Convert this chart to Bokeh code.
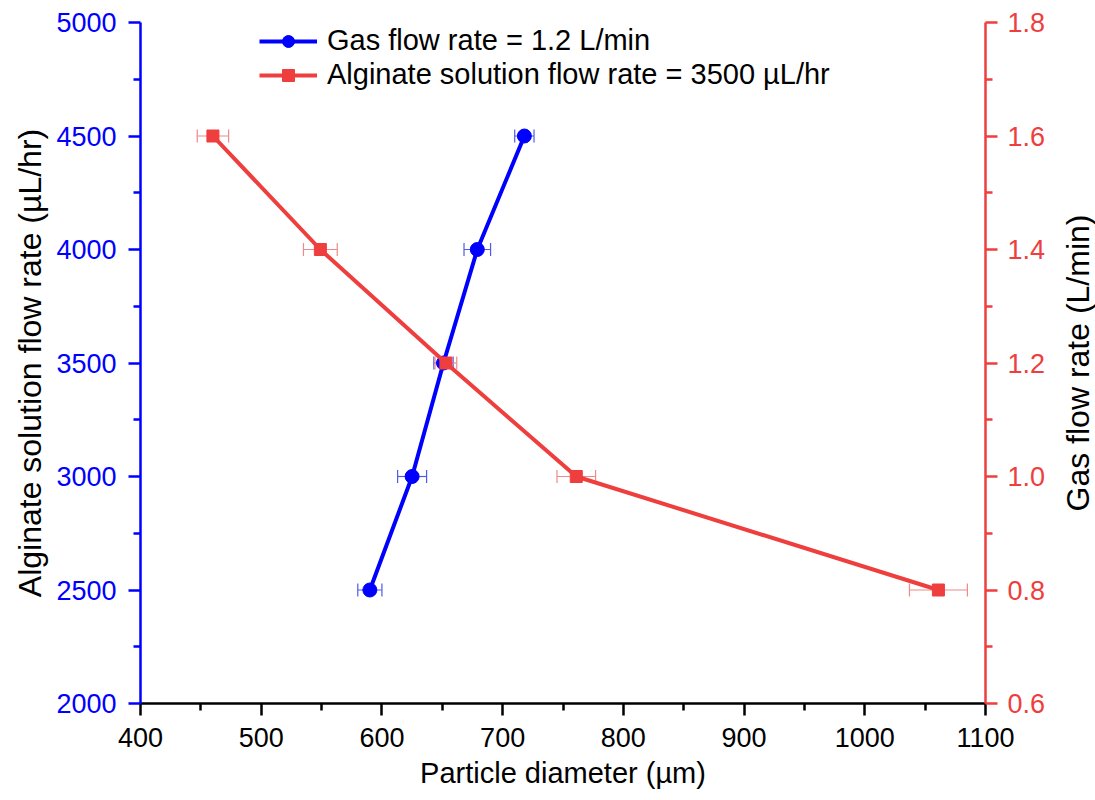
import math
from bokeh.plotting import figure
from bokeh.layouts import row
from bokeh.models import (Range1d, LinearAxis, FixedTicker, Whisker, TeeHead, ColumnDataSource,
                          Legend, LegendItem, PrintfTickFormatter)
from bokeh.embed import file_html
from bokeh.resources import INLINE

# ---- data ----
alg_flow = [2500, 3000, 3500, 4000, 4500]          # µL/hr (left axis)
blue_diam = [590, 625, 651, 679, 718]              # µm
blue_err = [10, 12, 8, 11, 8]

gas_flow = [0.8, 1.0, 1.2, 1.4, 1.6]               # L/min (right axis)
red_diam = [1061, 761, 653, 549, 460]              # µm
red_err = [24, 16, 9, 14, 13]

x_ticks = [400, 500, 600, 700, 800, 900, 1000, 1100]
x_minor = [450, 550, 650, 750, 850, 950, 1050]
left_ticks = [2000, 2500, 3000, 3500, 4000, 4500, 5000]
left_minor = [2250, 2750, 3250, 3750, 4250, 4750]
right_ticks = [0.6, 0.8, 1.0, 1.2, 1.4, 1.6, 1.8]
right_minor = [0.7, 0.9, 1.1, 1.3, 1.5, 1.7]

BLUE = "#0000FF"
RED = "#EE3E3E"
FONT = "Liberation Sans"
TICK_FS = "27px"
LAB_FS = "29px"
VLAB_FS = "32px"

p = figure(width=1058, height=800, output_backend="svg", toolbar_location=None,
           x_range=Range1d(400, 1100), y_range=Range1d(2000, 5000),
           min_border_left=140, min_border_right=73, min_border_top=22, min_border_bottom=97)
p.extra_y_ranges = {"gas": Range1d(0.6, 1.8)}
p.outline_line_color = None
p.grid.visible = False
p.background_fill_color = "white"
p.border_fill_color = "white"

def style_axis(ax, color, label_color="black"):
    ax.axis_line_color = color
    ax.axis_line_width = 2.5
    ax.major_tick_line_color = color
    ax.minor_tick_line_color = color
    ax.major_tick_line_width = 2.5
    ax.minor_tick_line_width = 2.5
    ax.major_tick_out = 12
    ax.major_tick_in = 0
    ax.minor_tick_out = 7
    ax.minor_tick_in = 0
    ax.major_label_text_color = color
    ax.major_label_text_font = FONT
    ax.major_label_text_font_size = TICK_FS
    ax.axis_label_text_font = FONT
    ax.axis_label_text_font_size = LAB_FS
    ax.axis_label_text_font_style = "normal"
    ax.axis_label_text_color = label_color

# bottom axis
xa = p.xaxis[0]
xa.ticker = FixedTicker(ticks=x_ticks, minor_ticks=x_minor)
xa.axis_label = "Particle diameter (µm)"
style_axis(xa, "black")
xa.major_label_standoff = 12
xa.axis_label_standoff = 7

# left axis
ya = p.yaxis[0]
ya.ticker = FixedTicker(ticks=left_ticks, minor_ticks=left_minor)
ya.axis_label = "Alginate solution flow rate (µL/hr)"
style_axis(ya, BLUE)
ya.axis_label_text_font_size = VLAB_FS
ya.major_label_standoff = 12
ya.axis_label_standoff = 5

# right axis
ra = LinearAxis(y_range_name="gas")
ra.ticker = FixedTicker(ticks=right_ticks, minor_ticks=right_minor)
ra.formatter = PrintfTickFormatter(format="%.1f")
style_axis(ra, RED)
ra.major_label_standoff = 10
p.add_layout(ra, "right")

# error bars
bsrc = ColumnDataSource(dict(y=alg_flow, x=blue_diam,
                             lo=[d - e for d, e in zip(blue_diam, blue_err)],
                             hi=[d + e for d, e in zip(blue_diam, blue_err)]))
rsrc = ColumnDataSource(dict(y=gas_flow, x=red_diam,
                             lo=[d - e for d, e in zip(red_diam, red_err)],
                             hi=[d + e for d, e in zip(red_diam, red_err)]))

BERR = "#4F5BE8"
RERR = "#F08A8A"
bw = Whisker(source=bsrc, base="y", lower="lo", upper="hi", dimension="width",
             line_color=BERR, line_width=1.2,
             upper_head=TeeHead(size=13, line_color=BERR, line_width=1.2),
             lower_head=TeeHead(size=13, line_color=BERR, line_width=1.2))
rw = Whisker(source=rsrc, base="y", lower="lo", upper="hi", dimension="width",
             y_range_name="gas",
             line_color=RERR, line_width=1.2,
             upper_head=TeeHead(size=13, line_color=RERR, line_width=1.2),
             lower_head=TeeHead(size=13, line_color=RERR, line_width=1.2))
p.add_layout(bw)
p.add_layout(rw)

bl = p.line("x", "y", source=bsrc, line_color=BLUE, line_width=4)
bs = p.scatter("x", "y", source=bsrc, marker="circle", size=14, fill_color=BLUE, line_color=BLUE)
rl = p.line("x", "y", source=rsrc, y_range_name="gas", line_color=RED, line_width=4)
rs = p.scatter("x", "y", source=rsrc, y_range_name="gas", marker="square", size=12,
               fill_color=RED, line_color=RED)

legend = Legend(items=[LegendItem(label="Gas flow rate = 1.2 L/min", renderers=[bl, bs]),
                       LegendItem(label="Alginate solution flow rate = 3500 µL/hr", renderers=[rl, rs])],
                location=(119, 612))
legend.border_line_color = None
legend.background_fill_alpha = 0
legend.label_text_font = FONT
legend.label_text_font_size = LAB_FS
legend.label_text_color = "black"
legend.glyph_width = 58
legend.glyph_height = 30
legend.label_standoff = 10
legend.spacing = 1
legend.padding = 0
legend.margin = 0
p.add_layout(legend)

# narrow companion figure carrying the right-axis title (reads bottom-to-top)
p2 = figure(width=37, height=800, output_backend="svg", toolbar_location=None,
            x_axis_location=None, y_axis_location=None,
            title="Gas flow rate (L/min)", title_location="left",
            min_border_left=0, min_border_right=0, min_border_top=22, min_border_bottom=97)
p2.outline_line_color = None
p2.grid.visible = False
p2.background_fill_color = "white"
p2.border_fill_color = "white"
p2.title.align = "center"
p2.title.text_font = FONT
p2.title.text_font_size = VLAB_FS
p2.title.text_font_style = "normal"
p2.title.text_color = "black"
p2.title.standoff = 0
p2.title.offset = 0

layout = row(p, p2, spacing=0)

open("out.html", "w").write(file_html(layout, INLINE))
